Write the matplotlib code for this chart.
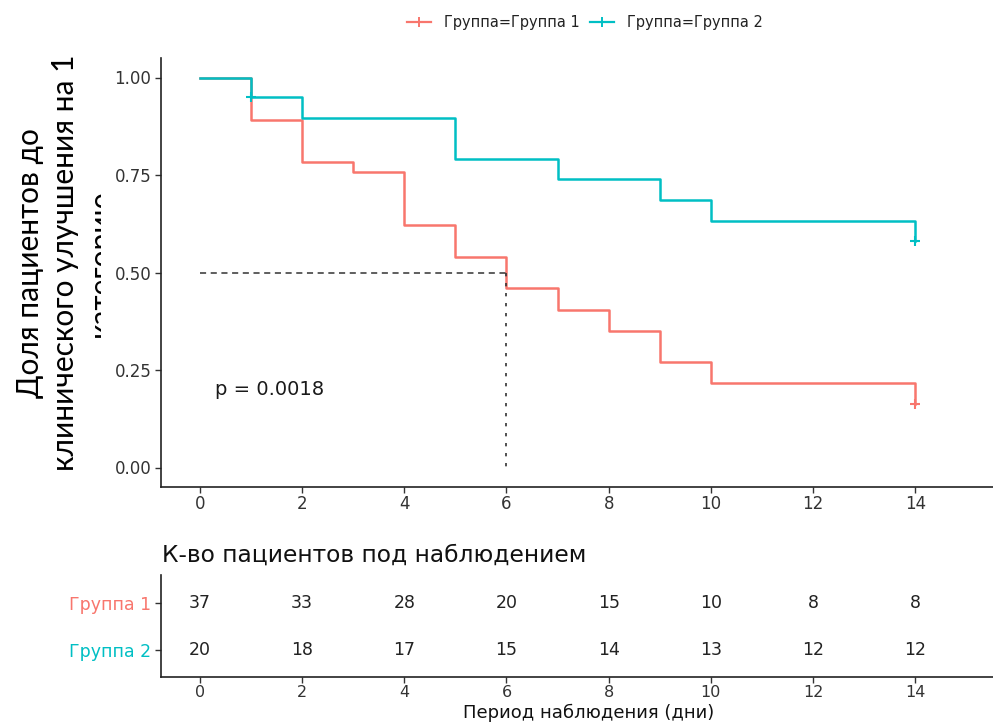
import matplotlib
matplotlib.use("Agg")
import matplotlib.pyplot as plt
from matplotlib.lines import Line2D
from matplotlib.transforms import Bbox

# ---- data ----
times_g1 = [0, 1, 2, 3, 4, 5, 6, 7, 8, 9, 10, 14]
surv_g1 = [1.0, 0.892, 0.784, 0.757, 0.622, 0.541, 0.459, 0.405, 0.351, 0.270, 0.216, 0.162]
censor_t_g1 = [14]
censor_s_g1 = [0.162]

times_g2 = [0, 1, 2, 5, 7, 9, 10, 14]
surv_g2 = [1.0, 0.95, 0.897, 0.792, 0.739, 0.686, 0.633, 0.580]
censor_t_g2 = [1, 14]
censor_s_g2 = [0.95, 0.580]

median_time = 6
median_level = 0.5
p_text = "p = 0.0018"

group_labels = ["Группа 1", "Группа 2"]
legend_labels = ["Группа=Группа 1", "Группа=Группа 2"]
table_times = [0, 2, 4, 6, 8, 10, 12, 14]
risk_g1 = [37, 33, 28, 20, 15, 10, 8, 8]
risk_g2 = [20, 18, 17, 15, 14, 13, 12, 12]
x_ticks = [0, 2, 4, 6, 8, 10, 12, 14]
y_ticks = [0.0, 0.25, 0.5, 0.75, 1.0]
y_ticklabels = ["0.00", "0.25", "0.50", "0.75", "1.00"]

c1 = "#F8766D"
c2 = "#00BFC4"

plt.rcParams['font.family'] = ['DejaVu Sans']

W, H = 993, 722
fig = plt.figure(figsize=(W / 100, H / 100), dpi=100)

def frac(l, t, r, b):
    return [l / W, 1 - b / H, (r - l) / W, (b - t) / H]

ax = fig.add_axes(frac(161, 58, 993, 487))
ax.step(times_g1, surv_g1, where='post', color=c1, lw=1.8)
ax.step(times_g2, surv_g2, where='post', color=c2, lw=1.8)
ax.plot(censor_t_g1, censor_s_g1, ls='none', marker='+', ms=7.5, mew=1.5, color=c1)
ax.plot(censor_t_g2, censor_s_g2, ls='none', marker='+', ms=7.5, mew=1.5, color=c2)
ax.plot([0, median_time], [median_level, median_level], color='#333333', lw=1.1, ls=(0, (4, 3)))
ax.plot([median_time, median_time], [median_level, 0], color='#333333', lw=1.2, ls=(0, (2, 4)))
ax.text(0.3, 0.2, p_text, fontsize=14, va='center', ha='left', color='#1a1a1a')

ax.set_xlim(-0.76, 15.52)
ax.set_ylim(-0.05, 1.05)
ax.set_xticks(x_ticks)
ax.set_yticks(y_ticks)
ax.set_yticklabels(y_ticklabels)
for s in ['top', 'right']:
    ax.spines[s].set_visible(False)
for s in ['left', 'bottom']:
    ax.spines[s].set_color('#222222')
    ax.spines[s].set_linewidth(1.2)
ax.tick_params(axis='both', labelsize=12, colors='#333333', length=4, width=1.0, pad=3)
ax.tick_params(axis='x', pad=1.5)

# legend
handles = [Line2D([], [], color=c1, lw=1.6, marker='+', ms=7.5, mew=1.4),
           Line2D([], [], color=c2, lw=1.6, marker='+', ms=7.5, mew=1.4)]
fig.legend(handles, legend_labels, loc='center', bbox_to_anchor=(585 / W, 1 - 23 / H),
           ncol=2, frameon=False, fontsize=10.5, handlelength=1.6, columnspacing=0.75,
           handletextpad=0.9, labelcolor='#222222')

# y label, three lines, last one clipped
ylab_lines = ["Доля пациентов до", "клинического улучшения на 1", "категорию"]
ylab_x = [30, 65, 101]
clip = Bbox.from_extents(0, 0, 101, H)
for txt, xp in zip(ylab_lines, ylab_x):
    t = fig.text(xp / W, 1 - 263 / H, txt, rotation=90, ha='center', va='center',
                 fontsize=21.5, family=['Lato', 'DejaVu Sans'], color='black')
    t.set_clip_box(clip)
    t.set_clip_on(True)

# risk table
axt = fig.add_axes(frac(161, 575, 993, 677))
ypos = [2, 1]
for yv, vals in zip(ypos, [risk_g1, risk_g2]):
    for tx, v in zip(table_times, vals):
        axt.text(tx, yv, str(v), ha='center', va='center', fontsize=12.5, color='#222222')
axt.set_xlim(-0.76, 15.52)
axt.set_ylim(0.43, 2.6)
axt.set_xticks(x_ticks)
axt.set_yticks(ypos)
axt.set_yticklabels(group_labels)
for lbl, col in zip(axt.get_yticklabels(), [c1, c2]):
    lbl.set_color(col)
for s in ['top', 'right']:
    axt.spines[s].set_visible(False)
for s in ['left', 'bottom']:
    axt.spines[s].set_color('#222222')
    axt.spines[s].set_linewidth(1.2)
axt.tick_params(axis='both', labelsize=12, length=4, width=1.0, pad=3)
axt.tick_params(axis='y', labelsize=12.5, color='#333333')
axt.tick_params(axis='x', colors='#333333', labelsize=11.5, pad=1.5)

fig.text(589 / W, 1 - 718 / H, "Период наблюдения (дни)", fontsize=13,
         ha='center', va='baseline', color='#111111')

fig.text(162 / W, 1 - 562 / H, "К-во пациентов под наблюдением", fontsize=16.8,
         ha='left', va='baseline', color='#111111')

fig.savefig("out.png", dpi=100, facecolor='white')
